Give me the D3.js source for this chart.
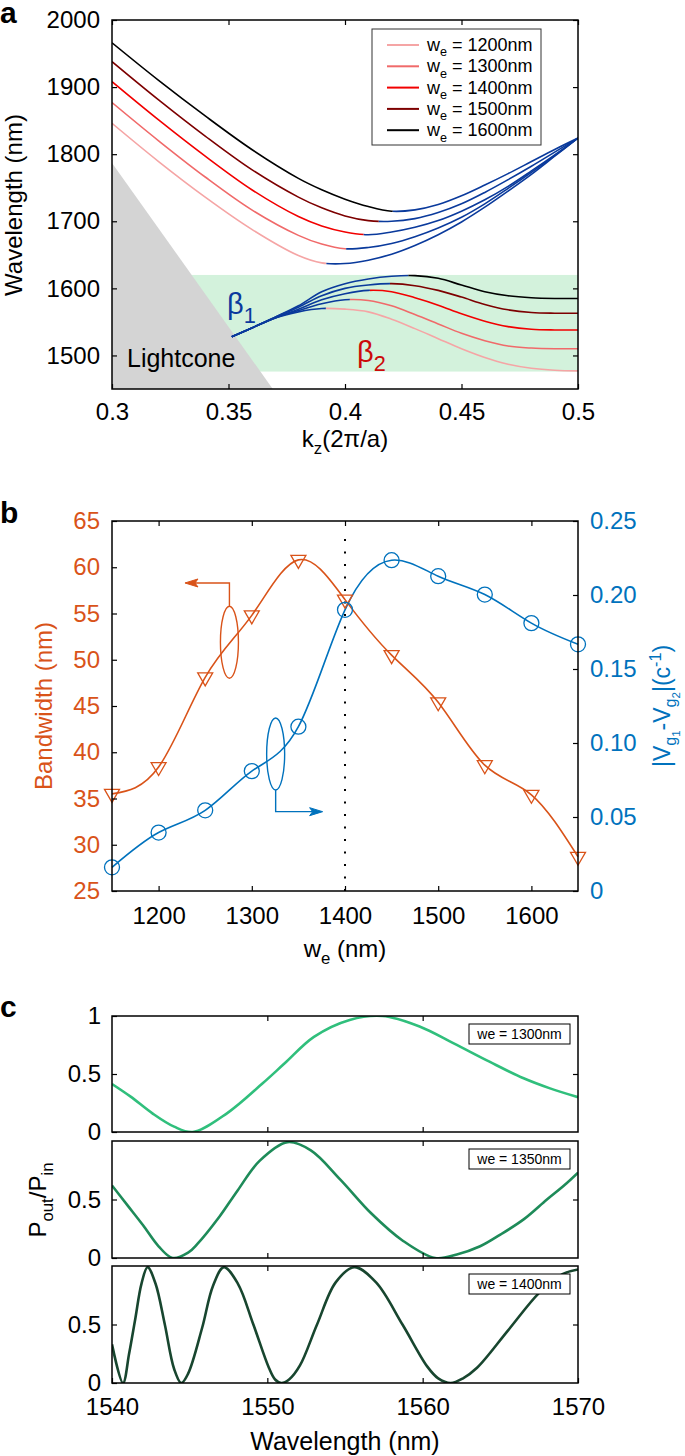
<!DOCTYPE html>
<html>
<head>
<meta charset="utf-8">
<script src="https://cdn.jsdelivr.net/npm/d3@7"></script>
<style>
body { margin: 0; background: #fff; }
svg { display: block; }
</style>
</head>
<body>
<script>
var width = 685;
var height = 1456;
var FONT = '"Liberation Sans", Arial, Helvetica, sans-serif';

// ---------- panel a : band diagram
var wes = [1200, 1300, 1400, 1500, 1600];
var kzUp = [0.30, 0.32, 0.34, 0.36, 0.38, 0.39, 0.40, 0.41, 0.42, 0.43, 0.44, 0.45, 0.46, 0.47, 0.48, 0.49, 0.50];
var up1200 = [1846, 1789, 1736, 1688, 1649, 1638, 1637, 1642, 1651, 1664, 1680, 1699, 1721, 1745, 1770, 1797, 1824];
var up1300 = [1877, 1820, 1766, 1717, 1679, 1666, 1659, 1661, 1667, 1677, 1690, 1706, 1726, 1749, 1773, 1798, 1824];
var up1400 = [1908, 1851, 1797, 1747, 1707, 1693, 1684, 1680, 1684, 1691, 1701, 1715, 1732, 1752, 1775, 1799, 1824];
var up1500 = [1938, 1881, 1827, 1777, 1736, 1720, 1708, 1701, 1700, 1704, 1713, 1726, 1743, 1762, 1782, 1803, 1824];
var up1600 = [1966, 1910, 1857, 1807, 1764, 1747, 1733, 1722, 1715, 1717, 1725, 1738, 1754, 1771, 1789, 1807, 1824];
var kzLow = [0.3514, 0.36, 0.37, 0.38, 0.39, 0.40, 0.41, 0.42, 0.43, 0.44, 0.45, 0.46, 0.47, 0.48, 0.49, 0.50];
var low1200 = [1528, 1541, 1556, 1565, 1570, 1569, 1565, 1554, 1540, 1525, 1510, 1497, 1487, 1481, 1478, 1477];
var low1300 = [1528, 1541, 1556, 1567, 1577, 1583, 1582, 1574, 1561, 1547, 1533, 1522, 1514, 1511, 1510, 1510];
var low1400 = [1528, 1541, 1556, 1569, 1583, 1592, 1597, 1595, 1586, 1575, 1562, 1551, 1543, 1539, 1538, 1538];
var low1500 = [1528, 1541, 1557, 1572, 1589, 1600, 1605, 1607, 1604, 1597, 1587, 1576, 1568, 1564, 1563, 1563];
var low1600 = [1528, 1541, 1557, 1574, 1595, 1607, 1614, 1618, 1619, 1615, 1605, 1595, 1589, 1586, 1585, 1585];
// kz where the colour switches between red and blue
var switchUp = [0.392, 0.4005, 0.408, 0.4145, 0.4205];
var switchLow = [0.3918, 0.4021, 0.4107, 0.4193, 0.4272];
var bandKz = [0.331, 0.5];
var bandLambda = [1476, 1620];
var coneKz = [0.3, 0.369];
var coneLambda = [1787, 1450];
var kzTicks = [0.3, 0.35, 0.4, 0.45, 0.5];
var lambdaTicks = [1500, 1600, 1700, 1800, 1900, 2000];

// ---------- panel b
var weB = [1150, 1200, 1250, 1300, 1350, 1400, 1450, 1500, 1550, 1600, 1650];
var bandwidth = [35.5, 38.4, 48.1, 54.8, 60.8, 56.5, 50.5, 45.4, 38.6, 35.4, 28.7];
var dvg = [0.016, 0.0395, 0.0545, 0.081, 0.111, 0.190, 0.2235, 0.2127, 0.2003, 0.181, 0.1667];
var weTicks = [1200, 1300, 1400, 1500, 1600];
var bwTicks = [25, 30, 35, 40, 45, 50, 55, 60, 65];
var dvTicks = [0, 0.05, 0.10, 0.15, 0.20, 0.25];

// ---------- panel c
var wl1300 = [1540, 1541.2, 1542.6, 1544, 1545.2, 1547.4, 1549.7, 1551.1, 1553, 1555.3, 1557.4, 1559.8, 1562, 1564.3, 1566.5, 1568.2, 1570];
var p1300 = [0.414, 0.305, 0.161, 0.046, 0, 0.161, 0.42, 0.59, 0.82, 0.966, 1.0, 0.91, 0.764, 0.606, 0.463, 0.376, 0.30];
var wl1350 = [1540, 1541, 1542, 1543, 1543.9, 1544.9, 1545.5, 1546.9, 1548.1, 1549.5, 1551.3, 1552.8, 1554.7, 1556.7, 1558.7, 1560.8, 1562.2, 1563.7, 1565, 1566.5, 1568, 1569.1, 1570];
var p1350 = [0.62, 0.45, 0.28, 0.1, 0, 0.045, 0.12, 0.35, 0.58, 0.83, 0.99, 0.92, 0.67, 0.38, 0.15, 0, 0.03, 0.1, 0.2, 0.33, 0.5, 0.62, 0.73];
var wl1400 = [1540, 1540.71, 1541.1, 1541.5, 1541.9, 1542.29, 1542.8, 1543.4, 1544, 1544.46, 1544.9, 1545.8, 1546.5, 1547.2, 1548.1, 1549.1, 1550.1, 1550.5, 1550.9, 1551.4, 1552.1, 1553.2, 1554.4, 1555.6, 1557, 1558.7, 1560.3, 1561, 1561.8, 1562.6, 1563.5, 1565.5, 1567.5, 1569, 1570];
var p1400 = [0.33, 0, 0.25, 0.55, 0.85, 0.99, 0.85, 0.5, 0.12, 0, 0.08, 0.47, 0.83, 0.99, 0.85, 0.5, 0.13, 0.03, 0, 0.03, 0.15, 0.5, 0.86, 0.99, 0.86, 0.5, 0.14, 0.04, 0, 0.04, 0.13, 0.45, 0.77, 0.93, 0.97];
var wlTicks = [1540, 1550, 1560, 1570];
var cLabels = ["we = 1300nm", "we = 1350nm", "we = 1400nm"];

var redShades = ["#f5a5a5", "#f06a6a", "#f20000", "#7d0000", "#000000"];
var blueLine = "#0a3a9c";
var orange = "#d95319";
var blue = "#0072bd";
var greens = ["#30bf7c", "#1e8b59", "#18462f"];

var svg = d3.select("body").append("svg")
  .attr("width", width)
  .attr("height", height)
  .style("font-family", FONT);
svg.append("rect").attr("width", width).attr("height", height).attr("fill", "#fff");
var defs = svg.append("defs");

// text with sub/superscripts: parts = [text, shift(em), scale]
function rich(g, x, y, parts, size, opts) {
  var t = g.append("text").attr("x", x).attr("y", y).attr("font-size", size);
  if (opts && opts.anchor) t.attr("text-anchor", opts.anchor);
  if (opts && opts.fill) t.attr("fill", opts.fill);
  if (opts && opts.rotate) t.attr("transform", "rotate(-90," + x + "," + y + ")");
  var prev = 0;
  parts.forEach(function(p) {
    var sh = p[1] || 0, sc = p[2] || 1;
    t.append("tspan").attr("dy", (sh - prev) * size).attr("font-size", size * sc).text(p[0]);
    prev = sh;
  });
  return t;
}

function frame(x0, y0, x1, y1) {
  svg.append("rect").attr("x", x0).attr("y", y0).attr("width", x1 - x0).attr("height", y1 - y0)
    .attr("fill", "none").attr("stroke", "#000").attr("stroke-width", 1.5);
}

function styleAxis(g, size, color) {
  g.select(".domain").remove();
  g.attr("font-family", FONT).attr("font-size", size);
  g.selectAll("line").attr("stroke", "#000").attr("stroke-width", 1.2);
  g.selectAll("text").attr("fill", color || "#000");
}

// ================= panel a
var xa = d3.scaleLinear().domain([0.3, 0.5]).range([112, 578]);
var ya = d3.scaleLinear().domain([1450, 2000]).range([389, 20]);

defs.append("clipPath").attr("id", "clipA").append("rect")
  .attr("x", 112).attr("y", 20).attr("width", 466).attr("height", 369);

var pa = svg.append("g").attr("clip-path", "url(#clipA)");

pa.append("rect")
  .attr("x", xa(bandKz[0])).attr("y", ya(bandLambda[1]))
  .attr("width", xa(bandKz[1]) - xa(bandKz[0]))
  .attr("height", ya(bandLambda[0]) - ya(bandLambda[1]))
  .attr("fill", "#d3f2dc");

pa.append("path")
  .attr("d", "M" + xa(coneKz[0]) + "," + ya(coneLambda[0]) +
    "L" + xa(coneKz[1]) + "," + ya(coneLambda[1]) +
    "L" + xa(coneKz[0]) + "," + ya(coneLambda[1]) + "Z")
  .attr("fill", "#d4d4d4");

var lineA = d3.line()
  .x(function(d) { return xa(d[0]); })
  .y(function(d) { return ya(d[1]); })
  .curve(d3.curveCatmullRom.alpha(0.5));

var upper = [up1200, up1300, up1400, up1500, up1600];
var lower = [low1200, low1300, low1400, low1500, low1600];

function clipSpan(id, k0, k1) {
  defs.append("clipPath").attr("id", id).append("rect")
    .attr("x", xa(k0)).attr("y", 0).attr("width", xa(k1) - xa(k0)).attr("height", 400);
}

wes.forEach(function(w, i) {
  var up = d3.zip(kzUp, upper[i]);
  var lo = d3.zip(kzLow, lower[i]);
  clipSpan("uL" + i, 0.29, switchUp[i]);
  clipSpan("uR" + i, switchUp[i], 0.51);
  clipSpan("lL" + i, 0.29, switchLow[i]);
  clipSpan("lR" + i, switchLow[i], 0.51);
  pa.append("path").attr("d", lineA(up)).attr("clip-path", "url(#uL" + i + ")")
    .attr("fill", "none").attr("stroke", redShades[i]).attr("stroke-width", 1.6);
  pa.append("path").attr("d", lineA(up)).attr("clip-path", "url(#uR" + i + ")")
    .attr("fill", "none").attr("stroke", blueLine).attr("stroke-width", 1.6);
  pa.append("path").attr("d", lineA(lo)).attr("clip-path", "url(#lL" + i + ")")
    .attr("fill", "none").attr("stroke", blueLine).attr("stroke-width", 1.6);
  pa.append("path").attr("d", lineA(lo)).attr("clip-path", "url(#lR" + i + ")")
    .attr("fill", "none").attr("stroke", redShades[i]).attr("stroke-width", 1.6);
});

svg.append("text").attr("x", 127).attr("y", 367).attr("font-size", 25).text("Lightcone");
rich(svg, 227, 314, [["β", 0], ["1", 0.3, 0.75]], 29, { fill: "#0b3a9e" });
rich(svg, 357, 362, [["β", 0], ["2", 0.3, 0.75]], 29, { fill: "#cc0a0a" });

var axA = svg.append("g").attr("transform", "translate(0,389)")
  .call(d3.axisBottom(xa).tickValues(kzTicks).tickSize(-5).tickPadding(14).tickFormat(function(d) { return String(d); }));
styleAxis(axA, 24);
var axAt = svg.append("g").attr("transform", "translate(0,20)")
  .call(d3.axisTop(xa).tickValues(kzTicks).tickSize(-5).tickFormat(""));
styleAxis(axAt, 24);
var ayA = svg.append("g").attr("transform", "translate(112,0)")
  .call(d3.axisLeft(ya).tickValues(lambdaTicks).tickSize(-5).tickPadding(12).tickFormat(d3.format("d")));
styleAxis(ayA, 24);
var ayAr = svg.append("g").attr("transform", "translate(578,0)")
  .call(d3.axisRight(ya).tickValues(lambdaTicks).tickSize(-5).tickFormat(""));
styleAxis(ayAr, 24);
frame(112, 20, 578, 389);

rich(svg, 22, 205, [["Wavelength (nm)", 0]], 24, { anchor: "middle", rotate: true });
rich(svg, 345, 447, [["k", 0], ["z", 0.3, 0.7], ["(2π/a)", 0]], 24, { anchor: "middle" });

// legend
var lg = svg.append("g");
lg.append("rect").attr("x", 372).attr("y", 29).attr("width", 169).attr("height", 116)
  .attr("fill", "#fff").attr("stroke", "#333").attr("stroke-width", 1);
wes.forEach(function(w, i) {
  var yy = 45 + i * 21.3;
  lg.append("line").attr("x1", 387).attr("x2", 419).attr("y1", yy).attr("y2", yy)
    .attr("stroke", redShades[i]).attr("stroke-width", 2);
  rich(lg, 427, yy + 6, [["w", 0], ["e", 0.3, 0.7], [" = " + w + "nm", 0]], 18);
});

svg.append("text").attr("x", 0).attr("y", 23).attr("font-size", 30).attr("font-weight", "bold").text("a");

// ================= panel b
var xb = d3.scaleLinear().domain([1150, 1650]).range([112, 578]);
var ybL = d3.scaleLinear().domain([25, 65]).range([891, 521]);
var ybR = d3.scaleLinear().domain([0, 0.25]).range([891, 521]);

svg.append("line").attr("x1", xb(1400)).attr("x2", xb(1400)).attr("y1", 539).attr("y2", 891)
  .attr("stroke", "#000").attr("stroke-width", 2).attr("stroke-dasharray", "2,10.5");

var lineBL = d3.line().x(function(d) { return xb(d[0]); }).y(function(d) { return ybL(d[1]); }).curve(d3.curveNatural);
var lineBR = d3.line().x(function(d) { return xb(d[0]); }).y(function(d) { return ybR(d[1]); }).curve(d3.curveNatural);

svg.append("path").attr("d", lineBL(d3.zip(weB, bandwidth)))
  .attr("fill", "none").attr("stroke", orange).attr("stroke-width", 1.6);
svg.append("path").attr("d", lineBR(d3.zip(weB, dvg)))
  .attr("fill", "none").attr("stroke", blue).attr("stroke-width", 1.6);

svg.selectAll(".tri").data(d3.zip(weB, bandwidth)).enter().append("path")
  .attr("class", "tri")
  .attr("transform", function(d) { return "translate(" + xb(d[0]) + "," + ybL(d[1]) + ")"; })
  .attr("d", "M-7.5,-4.5L7.5,-4.5L0,8.5Z")
  .attr("fill", "none").attr("stroke", orange).attr("stroke-width", 1.3);
svg.selectAll(".circ").data(d3.zip(weB, dvg)).enter().append("circle")
  .attr("class", "circ")
  .attr("cx", function(d) { return xb(d[0]); })
  .attr("cy", function(d) { return ybR(d[1]); })
  .attr("r", 7.5)
  .attr("fill", "none").attr("stroke", blue).attr("stroke-width", 1.3);

// ellipse + arrow annotations
var eo = [1276, 51.9];
svg.append("ellipse").attr("cx", xb(eo[0])).attr("cy", ybL(eo[1])).attr("rx", 9).attr("ry", 36)
  .attr("fill", "none").attr("stroke", orange).attr("stroke-width", 1.4);
svg.append("path")
  .attr("d", "M" + xb(eo[0]) + "," + (ybL(eo[1]) - 36) + "V" + ybL(58.3) + "H" + (xb(1228.3) + 10))
  .attr("fill", "none").attr("stroke", orange).attr("stroke-width", 1.4);
svg.append("path")
  .attr("d", "M" + xb(1228.3) + "," + ybL(58.3) + "l13,-4l-3,4l3,4z")
  .attr("fill", orange).attr("stroke", orange).attr("stroke-width", 1);

var eb = [1325.6, 0.0926];
svg.append("ellipse").attr("cx", xb(eb[0])).attr("cy", ybR(eb[1])).attr("rx", 9).attr("ry", 36)
  .attr("fill", "none").attr("stroke", blue).attr("stroke-width", 1.4);
svg.append("path")
  .attr("d", "M" + xb(eb[0]) + "," + (ybR(eb[1]) + 36) + "V" + ybR(0.0536) + "H" + (xb(1376) - 10))
  .attr("fill", "none").attr("stroke", blue).attr("stroke-width", 1.4);
svg.append("path")
  .attr("d", "M" + xb(1376) + "," + ybR(0.0536) + "l-13,-4l3,4l-3,4z")
  .attr("fill", blue).attr("stroke", blue).attr("stroke-width", 1);

var axB = svg.append("g").attr("transform", "translate(0,891)")
  .call(d3.axisBottom(xb).tickValues(weTicks).tickSize(-5).tickPadding(16).tickFormat(d3.format("d")));
styleAxis(axB, 24);
var axBt = svg.append("g").attr("transform", "translate(0,521)")
  .call(d3.axisTop(xb).tickValues(weTicks).tickSize(-5).tickFormat(""));
styleAxis(axBt, 24);
var ayBL = svg.append("g").attr("transform", "translate(112,0)")
  .call(d3.axisLeft(ybL).tickValues(bwTicks).tickSize(-5).tickPadding(12).tickFormat(d3.format("d")));
styleAxis(ayBL, 24, orange);
var ayBR = svg.append("g").attr("transform", "translate(578,0)")
  .call(d3.axisRight(ybR).tickValues(dvTicks).tickSize(-5).tickPadding(12)
    .tickFormat(function(d) { return d === 0 ? "0" : d3.format(".2f")(d); }));
styleAxis(ayBR, 24, blue);
frame(112, 521, 578, 891);

rich(svg, 52, 706, [["Bandwidth (nm)", 0]], 24, { anchor: "middle", rotate: true, fill: orange });
rich(svg, 670, 706, [["|V", 0], ["g", 0.25, 0.7], ["1", 0.42, 0.5], ["-V", 0], ["g", 0.25, 0.7], ["2", 0.42, 0.5],
  ["|(c", 0], ["-1", -0.4, 0.7], [")", 0]], 23, { anchor: "middle", rotate: true, fill: blue });
rich(svg, 345, 957, [["w", 0], ["e", 0.3, 0.7], [" (nm)", 0]], 24, { anchor: "middle" });

svg.append("text").attr("x", 0).attr("y", 523).attr("font-size", 30).attr("font-weight", "bold").text("b");

// ================= panel c
var xc = d3.scaleLinear().domain([1540, 1570]).range([112, 578]);
var rows = [[1016, 1132], [1141, 1258], [1266, 1383]];
var cWl = [wl1300, wl1350, wl1400];
var cP = [p1300, p1350, p1400];

rows.forEach(function(r, i) {
  var yc = d3.scaleLinear().domain([0, 1]).range([r[1], r[0]]);
  var cid = "clipC" + i;
  defs.append("clipPath").attr("id", cid).append("rect")
    .attr("x", 112).attr("y", r[0]).attr("width", 466).attr("height", r[1] - r[0]);
  var lineC = d3.line().x(function(d) { return xc(d[0]); }).y(function(d) { return yc(d[1]); })
    .curve(d3.curveCatmullRom.alpha(0.5));
  svg.append("path").attr("d", lineC(d3.zip(cWl[i], cP[i]))).attr("clip-path", "url(#" + cid + ")")
    .attr("fill", "none").attr("stroke", greens[i]).attr("stroke-width", 2.6);

  var bx = svg.append("g").attr("transform", "translate(0," + r[1] + ")")
    .call(d3.axisBottom(xc).tickValues(i === 2 ? wlTicks : [1550, 1560]).tickSize(-5).tickPadding(15)
      .tickFormat(i === 2 ? d3.format("d") : ""));
  styleAxis(bx, 24);
  var tx = svg.append("g").attr("transform", "translate(0," + r[0] + ")")
    .call(d3.axisTop(xc).tickValues([1550, 1560]).tickSize(-5).tickFormat(""));
  styleAxis(tx, 24);
  var ly = svg.append("g").attr("transform", "translate(112,0)")
    .call(d3.axisLeft(yc).tickValues(i === 0 ? [0, 0.5, 1] : [0, 0.5]).tickSize(-5).tickPadding(11)
      .tickFormat(function(d) { return String(d); }));
  styleAxis(ly, 24);
  var ry = svg.append("g").attr("transform", "translate(578,0)")
    .call(d3.axisRight(yc).tickValues([0.5]).tickSize(-5).tickFormat(""));
  styleAxis(ry, 24);
  frame(112, r[0], 578, r[1]);

  var lb = svg.append("g");
  lb.append("rect").attr("x", 469).attr("y", r[0] + 8).attr("width", 101).attr("height", 20)
    .attr("fill", "#fff").attr("stroke", "#000").attr("stroke-width", 1);
  lb.append("text").attr("x", 519.5).attr("y", r[0] + 23).attr("text-anchor", "middle")
    .attr("font-size", 14).text(cLabels[i]);
});

rich(svg, 46, 1200, [["P", 0], ["out", 0.3, 0.7], ["/P", 0], ["in", 0.3, 0.7]], 24, { anchor: "middle", rotate: true });
svg.append("text").attr("x", 345).attr("y", 1450).attr("text-anchor", "middle").attr("font-size", 25).text("Wavelength (nm)");
svg.append("text").attr("x", 0).attr("y", 1017).attr("font-size", 30).attr("font-weight", "bold").text("c");
</script>
</body>
</html>
